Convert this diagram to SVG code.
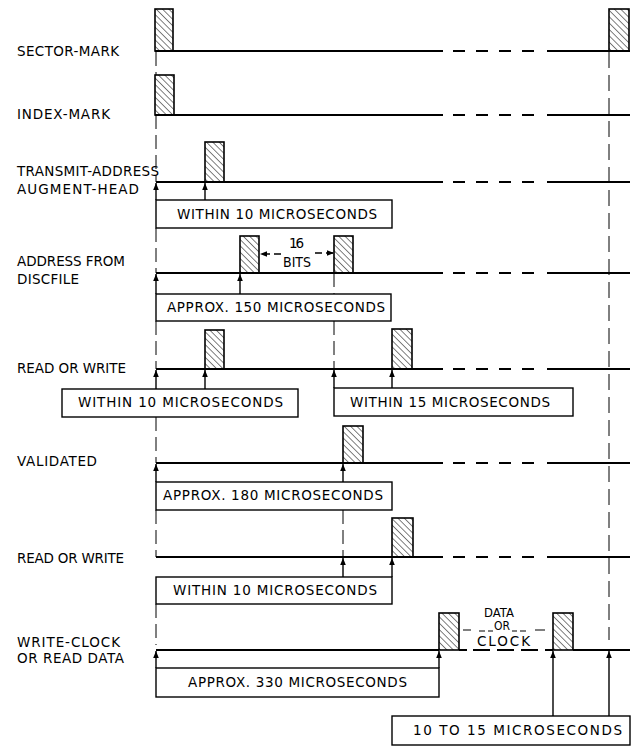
<svg xmlns="http://www.w3.org/2000/svg" width="639" height="747" viewBox="0 0 639 747">
<defs>
<pattern id="hatch" patternUnits="userSpaceOnUse" width="4.5" height="4.5" patternTransform="rotate(-45)">
<line x1="0" y1="-1" x2="0" y2="6" stroke="#000" stroke-width="1"/>
</pattern>
<marker id="ah" viewBox="0 0 10 10" refX="10" refY="5" markerWidth="7" markerHeight="7" orient="auto" markerUnits="userSpaceOnUse">
<path d="M0,1 L10,5 L0,9 z" fill="#000"/>
</marker>
<style>
.sig{fill:none;stroke:#000;stroke-width:2}
.pulse{fill:url(#hatch);stroke:#000;stroke-width:1.6}
.box{fill:#fff;stroke:#000;stroke-width:1.4}
.vd{fill:none;stroke:#000;stroke-width:1;stroke-dasharray:14 6}
.arr{fill:none;stroke:#000;stroke-width:1.4;marker-end:url(#ah)}
.darr{fill:none;stroke:#000;stroke-width:1.4;stroke-dasharray:7 4;marker-end:url(#ah)}
.thin{fill:none;stroke:#000;stroke-width:1.2}
text{font-family:"DejaVu Sans","Liberation Sans",Arial,sans-serif;font-size:13.5px;fill:#000}
.sm{font-size:12px}
</style>
</defs>
<rect width="639" height="747" fill="#fff"/>

<g id="connectors">
<path class="vd" d="M156 52V75M156 115V182M156 228V273M156 321V369M156 417V463M156 510V557M156 604V645"/>
<path class="vd" d="M334 273V294M334 321V369"/>
<path class="vd" d="M343 510V557"/>
<path class="vd" style="stroke-dasharray:16 7" d="M609 52V640"/>
</g>

<g id="sector-mark">
<path class="sig" d="M155 51H443M453 51H465M476 51H488M499 51H511M522 51H534M547 51H630"/>
<rect class="pulse" x="155" y="9" width="18" height="42"/>
<rect class="pulse" x="609" y="9" width="20" height="42"/>
<text x="17" y="56" textLength="102" lengthAdjust="spacing">SECTOR-MARK</text>
</g>

<g id="index-mark">
<path class="sig" d="M155 115H443M453 115H465M476 115H488M499 115H511M522 115H534M547 115H630"/>
<rect class="pulse" x="155" y="75" width="19" height="40"/>
<text x="17" y="119" textLength="93" lengthAdjust="spacing">INDEX-MARK</text>
</g>

<g id="transmit-address">
<path class="sig" d="M156 182H443M453 182H465M476 182H488M499 182H511M522 182H534M547 182H630"/>
<rect class="box" x="156" y="200" width="236" height="28"/>
<text x="177" y="219" textLength="200" lengthAdjust="spacing">WITHIN 10 MICROSECONDS</text>
<path class="arr" d="M156 200V183"/>
<path class="arr" d="M205 200V183"/>
<rect class="pulse" x="205" y="142" width="19" height="40"/>
<text x="17" y="176" textLength="142" lengthAdjust="spacing">TRANSMIT-ADDRESS</text>
<text x="17" y="194" textLength="122" lengthAdjust="spacing">AUGMENT-HEAD</text>
</g>

<g id="address-from-discfile">
<path class="sig" d="M156 273H443M453 273H465M476 273H488M499 273H511M522 273H534M547 273H630"/>
<rect class="box" x="156" y="294" width="235" height="27"/>
<text x="167" y="312" textLength="218" lengthAdjust="spacing">APPROX. 150 MICROSECONDS</text>
<path class="arr" d="M156 294V274"/>
<path class="arr" d="M240 294V274"/>
<rect class="pulse" x="240" y="236" width="19" height="37"/>
<rect class="pulse" x="334" y="236" width="19" height="37"/>
<text x="289" y="248" textLength="15" lengthAdjust="spacing">16</text>
<text x="283" y="267" textLength="28" lengthAdjust="spacingAndGlyphs">BITS</text>
<path class="darr" d="M281 254H260"/>
<path class="darr" d="M315 253H334"/>
<text x="17" y="266" textLength="108" lengthAdjust="spacing">ADDRESS FROM</text>
<text x="17" y="284" textLength="62" lengthAdjust="spacing">DISCFILE</text>
</g>

<g id="read-or-write-1">
<path class="sig" d="M156 369H443M453 369H465M476 369H488M499 369H511M522 369H534M547 369H630"/>
<rect class="box" x="62" y="389" width="236" height="28"/>
<text x="78" y="407" textLength="205" lengthAdjust="spacing">WITHIN 10 MICROSECONDS</text>
<rect class="box" x="334" y="388" width="239" height="28"/>
<text x="350" y="407" textLength="200" lengthAdjust="spacing">WITHIN 15 MICROSECONDS</text>
<path class="arr" d="M156 389V370"/>
<path class="arr" d="M205 389V370"/>
<path class="arr" d="M334 388V370"/>
<path class="arr" d="M392 388V370"/>
<rect class="pulse" x="205" y="330" width="19" height="39"/>
<rect class="pulse" x="392" y="329" width="20" height="40"/>
<text x="17" y="373" textLength="109" lengthAdjust="spacing">READ OR WRITE</text>
</g>

<g id="validated">
<path class="sig" d="M156 463H443M453 463H465M476 463H488M499 463H511M522 463H534M547 463H630"/>
<rect class="box" x="156" y="482" width="236" height="28"/>
<text x="163" y="500" textLength="220" lengthAdjust="spacing">APPROX. 180 MICROSECONDS</text>
<path class="arr" d="M156 482V464"/>
<path class="arr" d="M343 482V464"/>
<rect class="pulse" x="343" y="426" width="20" height="37"/>
<text x="17" y="466" textLength="80" lengthAdjust="spacing">VALIDATED</text>
</g>

<g id="read-or-write-2">
<path class="sig" d="M156 557H443M453 557H465M476 557H488M499 557H511M522 557H534M547 557H630"/>
<rect class="box" x="156" y="577" width="236" height="27"/>
<text x="173" y="595" textLength="204" lengthAdjust="spacing">WITHIN 10 MICROSECONDS</text>
<path class="arr" d="M343 577V558"/>
<path class="arr" d="M392 577V558"/>
<rect class="pulse" x="392" y="518" width="21" height="39"/>
<text x="17" y="563" textLength="107" lengthAdjust="spacing">READ OR WRITE</text>
</g>

<g id="write-clock-or-read-data">
<path class="sig" d="M156 650H439M459 650H467M473 650H490M497 650H514M521 650H538M545 650H553M573 650H630"/>
<rect class="box" x="156" y="668" width="283" height="29"/>
<text x="188" y="687" textLength="219" lengthAdjust="spacing">APPROX. 330 MICROSECONDS</text>
<rect class="box" x="392" y="716" width="238" height="29"/>
<text x="413" y="735" textLength="209" lengthAdjust="spacing">10 TO 15 MICROSECONDS</text>
<path class="arr" d="M156 668V651"/>
<path class="arr" d="M439 668V651"/>
<path class="arr" d="M553 716V651"/>
<path class="arr" d="M609 716V651"/>
<rect class="pulse" x="439" y="613" width="20" height="37"/>
<rect class="pulse" x="553" y="613" width="20" height="37"/>
<path class="thin" d="M463 630H471M479 631H485M488 631H493M512 631H517M520 631H526M535 630H545"/>
<text class="sm" x="484" y="617" textLength="30" lengthAdjust="spacingAndGlyphs">DATA</text>
<text class="sm" x="494" y="630" textLength="16" lengthAdjust="spacingAndGlyphs">OR</text>
<text x="477" y="646" textLength="53" lengthAdjust="spacing">CLOCK</text>
<text x="17" y="647" textLength="103" lengthAdjust="spacing">WRITE-CLOCK</text>
<text x="17" y="663" textLength="107" lengthAdjust="spacing">OR READ DATA</text>
</g>
</svg>
